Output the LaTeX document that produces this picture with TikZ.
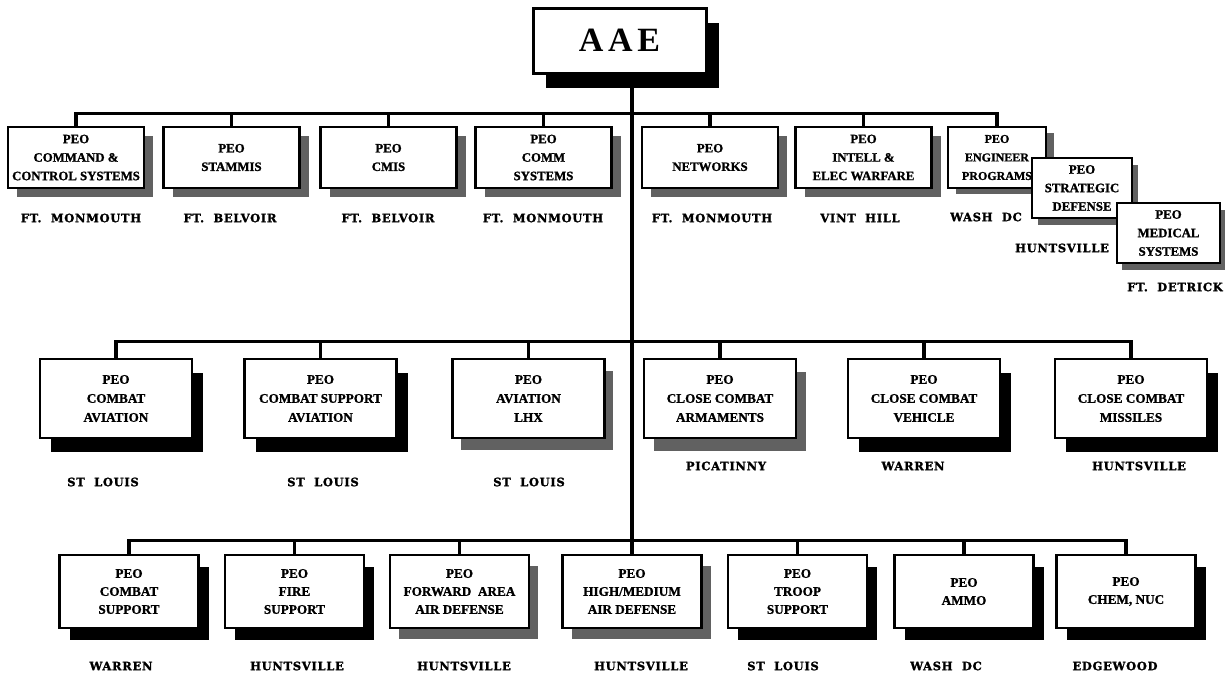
\documentclass[tikz,border=0pt]{standalone}
\usepackage{fontspec}
\setmainfont{Liberation Serif}
\newfontfamily\boxfont[FakeBold=1.2]{Liberation Serif}
\newfontfamily\placefont[LetterSpace=6, FakeBold=1.6]{DejaVu Serif}
\newfontfamily\headfont[LetterSpace=14]{Liberation Serif}
\usetikzlibrary{shadows}

\tikzset{
  peo/.style={draw, line width=2.6pt, fill=white, align=center, inner sep=1pt},
  sh/.style 2 args={drop shadow={shadow xshift=#1pt, shadow yshift=-#2pt, fill=black, opacity=1}},
  shg/.style 2 args={drop shadow={shadow xshift=#1pt, shadow yshift=-#2pt, fill=black!62, opacity=1}},
  rowone/.style={peo, minimum width=136pt, minimum height=61pt,
    font=\boxfont\bfseries\fontsize{12.8}{18.5}\selectfont},
  rowtwo/.style={peo, minimum width=152pt, minimum height=79pt,
    font=\boxfont\bfseries\fontsize{13.2}{19}\selectfont},
  rowthree/.style={peo, minimum width=139pt, minimum height=73pt,
    font=\boxfont\bfseries\fontsize{13.2}{18}\selectfont},
  loc/.style={inner sep=0pt, font=\placefont\bfseries\fontsize{11.5}{14}\selectfont},
  wire/.style={line width=3.2pt, line cap=rect, line join=miter},
}

\begin{document}
\begin{tikzpicture}[x=1pt, y=-1pt]
\useasboundingbox (0,0) rectangle (1225,672);

% head of the organisation
\node[draw, line width=3pt, fill=white, minimum width=173pt, minimum height=65pt,
      sh={13}{15}, font=\headfont\bfseries\fontsize{34}{40}\selectfont] (aae) at (619.5,40.5) {AAE};

% first tier
\node[rowone, shg={9}{9}] (b1) at (76,157.5)    {PEO\\COMMAND \&\\CONTROL SYSTEMS};
\node[rowone, shg={9}{9}] (b2) at (231.5,157.5) {PEO\\STAMMIS};
\node[rowone, shg={9}{9}] (b3) at (388.5,157.5) {PEO\\CMIS};
\node[rowone, shg={9}{9}] (b4) at (543.5,157.5) {PEO\\COMM\\SYSTEMS};
\node[rowone, shg={9}{9}] (b5) at (710,157.5)   {PEO\\NETWORKS};
\node[rowone, shg={9}{9}] (b6) at (863.5,157.5) {PEO\\INTELL \&\\ELEC WARFARE};
\node[rowone, shg={8}{6}, minimum width=98pt,
      font=\boxfont\bfseries\fontsize{12}{18.5}\selectfont] (b7) at (997,157.5) {PEO\\ENGINEER\\PROGRAMS};
\node[rowone, shg={6}{7}, minimum width=100pt, minimum height=60pt] (b8) at (1082,188) {PEO\\STRATEGIC\\DEFENSE};
\node[rowone, shg={5}{7}, minimum width=103pt, minimum height=60pt] (b9) at (1168.5,233) {PEO\\MEDICAL\\SYSTEMS};

% second tier
\node[rowtwo, sh={11}{14}]  (a1) at (116,398.5)   {PEO\\COMBAT\\AVIATION};
\node[rowtwo, sh={11}{14}]  (a2) at (320.5,398.5) {PEO\\COMBAT SUPPORT\\AVIATION};
\node[rowtwo, shg={8}{12}]  (a3) at (528.5,398.5) {PEO\\AVIATION\\LHX};
\node[rowtwo, shg={10}{13}] (a4) at (720,398.5)   {PEO\\CLOSE COMBAT\\ARMAMENTS};
\node[rowtwo, sh={11}{14}]  (a5) at (924,398.5)   {PEO\\CLOSE COMBAT\\VEHICLE};
\node[rowtwo, sh={11}{14}]  (a6) at (1131,398.5)  {PEO\\CLOSE COMBAT\\MISSILES};

% third tier
\node[rowthree, sh={10}{12}]  (c1) at (129,591.5)   {PEO\\COMBAT\\SUPPORT};
\node[rowthree, sh={10}{12}]  (c2) at (294.5,591.5) {PEO\\FIRE\\SUPPORT};
\node[rowthree, shg={9}{11}]  (c3) at (459.5,591.5) {PEO\\FORWARD\ \ AREA\\AIR DEFENSE};
\node[rowthree, shg={9}{11}]  (c4) at (632,591.5)   {PEO\\HIGH/MEDIUM\\AIR DEFENSE};
\node[rowthree, sh={10}{12}]  (c5) at (797.5,591.5) {PEO\\TROOP\\SUPPORT};
\node[rowthree, sh={10}{12}]  (c6) at (964,591.5)   {PEO\\AMMO};
\node[rowthree, sh={10}{12}]  (c7) at (1126,591.5)  {PEO\\CHEM, NUC};

% connectors
\draw[wire] (aae.south -| c4.north) -- (c4.north);

\draw[wire] (b1.north) -- ++(0,-12) -| (b7.north);
\foreach \n in {b2,b3,b4,b5,b6} \draw[wire] (\n.north) -- ++(0,-12);

\draw[wire] (a1.north) -- ++(0,-16) -| (a6.north);
\foreach \n in {a2,a3,a4,a5} \draw[wire] (\n.north) -- ++(0,-16);

\draw[wire] (c1.north) -- ++(0,-13) -| (c7.north);
\foreach \n in {c2,c3,c5,c6} \draw[wire] (\n.north) -- ++(0,-13);

% locations
\node[loc] (l1) at (81,218)   {FT.\ \ MONMOUTH};
\node[loc] (l2) at (230,218)  {FT.\ \ BELVOIR};
\node[loc] (l3) at (388,218)  {FT.\ \ BELVOIR};
\node[loc] (l4) at (543,218)  {FT.\ \ MONMOUTH};
\node[loc] (l5) at (712,218)  {FT.\ \ MONMOUTH};
\node[loc] (l6) at (860,218)  {VINT\ \ HILL};
\node[loc] (l7) at (986,217)  {WASH\ \ DC};
\node[loc] (l8) at (1062,248) {HUNTSVILLE};
\node[loc] (l9) at (1175,287) {FT.\ \ DETRICK};

\node[loc] (m1) at (103,482)  {ST\ \ LOUIS};
\node[loc] (m2) at (323,482)  {ST\ \ LOUIS};
\node[loc] (m3) at (529,482)  {ST\ \ LOUIS};
\node[loc] (m4) at (726,466)  {PICATINNY};
\node[loc] (m5) at (913,466)  {WARREN};
\node[loc] (m6) at (1139,466) {HUNTSVILLE};

\node[loc] (n1) at (121,666)  {WARREN};
\node[loc] (n2) at (297,666)  {HUNTSVILLE};
\node[loc] (n3) at (464,666)  {HUNTSVILLE};
\node[loc] (n4) at (641,666)  {HUNTSVILLE};
\node[loc] (n5) at (783,666)  {ST\ \ LOUIS};
\node[loc] (n6) at (946,666)  {WASH\ \ DC};
\node[loc] (n7) at (1115,666) {EDGEWOOD};
\end{tikzpicture}
\end{document}
